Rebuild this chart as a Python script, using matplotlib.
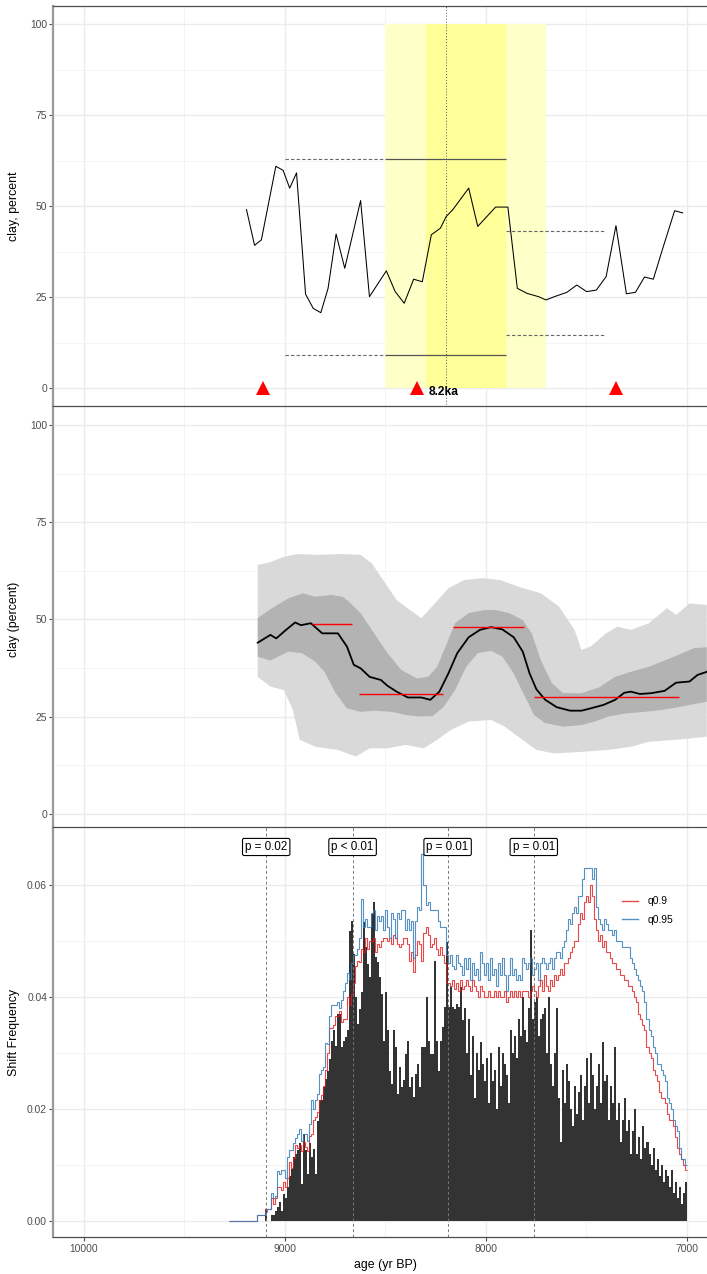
import numpy as np
import matplotlib
matplotlib.use('Agg')
import matplotlib.pyplot as plt
from matplotlib.lines import Line2D

plt.rcParams['font.family'] = ['Liberation Sans', 'DejaVu Sans']

# ---------------- data ----------------
# top panel: raw clay record
top_age = [9191, 9151, 9117, 9045, 9009, 8976, 8942, 8897, 8859, 8821, 8785, 8745, 8702,
           8623, 8579, 8495, 8451, 8406, 8359, 8316, 8271, 8226, 8197, 8164, 8085, 8040,
           7951, 7890, 7843, 7794, 7737, 7700, 7659, 7596, 7547, 7498, 7450, 7401, 7352,
           7300, 7255, 7210, 7166, 7116, 7060, 7020]
top_clay = [49.1, 39.3, 40.8, 61.0, 59.9, 55.0, 59.2, 25.9, 22.0, 20.8, 27.5, 42.4, 33.0,
            51.6, 25.2, 32.3, 26.6, 23.4, 30.0, 29.3, 42.2, 44.0, 47.2, 49.1, 55.0, 44.5,
            49.8, 49.8, 27.5, 26.1, 25.2, 24.3, 25.2, 26.4, 28.4, 26.6, 27.0, 30.7, 44.7,
            26.0, 26.4, 30.6, 30.0, 39.0, 48.8, 48.2]
band_outer = (8500, 7700)
band_inner = (8300, 7900)
event_age = 8200
event_label = "8.2ka"
ref_span_dashed = (9000, 8500)
ref_span_solid = (8500, 7900)
ref_upper, ref_lower = 63.0, 9.2
post_span = (7900, 7400)
post_upper, post_lower = 43.1, 14.6
triangle_ages = [9110, 8340, 7350]

# middle panel: smoothed mean + envelopes
mean_age = [9135, 9072, 9043, 8994, 8949, 8920, 8871, 8814, 8736, 8691, 8657, 8623, 8578,
            8522, 8489, 8444, 8388, 8321, 8276, 8231, 8186, 8142, 8085, 8029, 7973, 7917,
            7861, 7816, 7782, 7748, 7704, 7647, 7580, 7523, 7478, 7413, 7356, 7311, 7278,
            7233, 7177, 7110, 7053, 6986, 6946, 6900]
mean_clay = [44.0, 46.0, 45.1, 47.3, 49.2, 48.5, 49.0, 46.4, 46.4, 43.0, 38.3, 37.4, 35.2,
             34.4, 32.9, 31.4, 29.9, 29.9, 29.3, 31.4, 36.1, 41.3, 45.4, 47.3, 48.0, 47.4,
             45.4, 41.7, 36.1, 32.0, 29.3, 27.4, 26.5, 26.5, 27.1, 28.0, 29.3, 31.1, 31.4,
             30.8, 31.0, 31.6, 33.7, 34.0, 35.7, 36.5]
inner_hi_age = [9135, 9072, 8983, 8910, 8848, 8769, 8713, 8680, 8623, 8556, 8489, 8421,
                8343, 8287, 8242, 8197, 8153, 8085, 8006, 7951, 7883, 7816, 7771, 7726,
                7670, 7614, 7524, 7435, 7356, 7278, 7188, 7110, 7030, 6963, 6900]
inner_hi = [50.3, 52.6, 55.4, 56.7, 55.8, 56.3, 55.8, 54.5, 51.6, 46.4, 41.3, 37.0, 34.8,
            35.2, 37.8, 43.4, 49.0, 51.6, 52.4, 52.4, 51.6, 49.8, 46.4, 39.5, 33.5, 31.0,
            31.0, 32.5, 35.2, 36.5, 37.8, 39.4, 41.1, 42.6, 42.8]
inner_lo_age = [9135, 9072, 8983, 8915, 8848, 8803, 8747, 8691, 8623, 8556, 8467, 8399,
                8332, 8265, 8209, 8153, 8097, 8040, 7973, 7917, 7861, 7805, 7760, 7704,
                7614, 7524, 7457, 7390, 7300, 7210, 7120, 7030, 6963, 6900]
inner_lo = [40.4, 39.4, 41.7, 41.3, 39.1, 36.5, 31.0, 27.1, 26.2, 26.5, 26.2, 25.4, 25.0,
            25.1, 27.5, 31.8, 37.8, 41.3, 41.9, 40.4, 36.1, 30.1, 25.4, 23.3, 22.4, 22.8,
            23.7, 25.0, 25.8, 26.2, 26.7, 27.5, 28.2, 28.8]
outer_hi_age = [9135, 9072, 9005, 8937, 8848, 8713, 8623, 8567, 8511, 8444, 8377, 8321,
                8253, 8186, 8108, 8018, 7928, 7838, 7726, 7636, 7558, 7524, 7478, 7401,
                7345, 7278, 7188, 7098, 7053, 6986, 6900]
outer_hi = [64.0, 64.7, 66.1, 66.8, 66.6, 66.8, 66.6, 64.4, 60.1, 55.0, 52.4, 50.3, 54.1,
            58.0, 60.1, 60.6, 60.1, 58.4, 56.7, 53.3, 47.3, 42.1, 43.0, 46.4, 48.1, 47.3,
            49.0, 52.9, 51.1, 54.1, 53.7]
outer_lo_age = [9135, 9072, 9005, 8960, 8926, 8848, 8736, 8646, 8579, 8489, 8399, 8309,
                8242, 8175, 8085, 7973, 7906, 7838, 7748, 7659, 7524, 7390, 7278, 7188,
                7053, 6900]
outer_lo = [35.2, 32.7, 31.8, 26.7, 19.0, 17.2, 16.4, 14.7, 16.8, 16.8, 17.7, 16.8, 19.0,
            21.5, 23.7, 24.1, 22.4, 19.8, 16.4, 15.5, 15.9, 16.4, 17.2, 18.5, 19.0, 19.8]
seg_start = [8866, 8630, 8164, 7760]
seg_end = [8664, 8215, 7809, 7036]
seg_level = [48.8, 30.8, 48.1, 29.9]

# bottom panel: shift frequency histogram (10-yr bins from 9280 to 7000 BP)
bin_first = 9280
bin_width = 10
freq = ([0.0] * 18 +
        [0.002, 0.0, 0.0, 0.001, 0.001, 0.0018, 0.0024, 0.0033, 0.0018, 0.0048,
         0.004, 0.006, 0.008, 0.0093, 0.0114, 0.012, 0.0126, 0.0138, 0.0066, 0.0155,
         0.0126, 0.0084, 0.0138, 0.0114, 0.0129, 0.0084, 0.0179, 0.0215, 0.0215, 0.0239,
         0.0254, 0.0268, 0.0289, 0.0322, 0.034, 0.0313, 0.037, 0.037, 0.031, 0.0322,
         0.0328, 0.034, 0.0518, 0.0536, 0.0477, 0.0399, 0.0352, 0.0379, 0.0408, 0.0533,
         0.0489, 0.0459, 0.0435, 0.0548, 0.0569, 0.0471, 0.0462, 0.0435, 0.0405, 0.0322,
         0.0408, 0.034, 0.0268, 0.0245, 0.034, 0.031, 0.0227, 0.0274, 0.0239, 0.0251,
         0.0298, 0.0322, 0.0239, 0.0257, 0.0221, 0.0263, 0.028, 0.0239, 0.031, 0.031,
         0.0399, 0.0322, 0.0298, 0.0298, 0.0465, 0.0322, 0.0268, 0.0322, 0.0346, 0.0382,
         0.0498, 0.0382, 0.0417, 0.0382, 0.0379, 0.0388, 0.0382, 0.0417, 0.0358] +
        [0.038, 0.030, 0.036, 0.026, 0.033, 0.022, 0.030, 0.027, 0.032, 0.028, 0.025,
         0.029, 0.021, 0.030, 0.025, 0.027, 0.020, 0.031, 0.024, 0.030, 0.028,
         0.026, 0.021, 0.034, 0.030, 0.033, 0.029, 0.036, 0.033, 0.040, 0.034,
         0.032, 0.038, 0.052, 0.036, 0.039, 0.040, 0.033, 0.036, 0.037, 0.038,
         0.030, 0.040, 0.028, 0.024, 0.030, 0.038, 0.022, 0.014, 0.027, 0.021,
         0.028, 0.025, 0.020, 0.017, 0.024, 0.019, 0.023, 0.026, 0.018, 0.024,
         0.029, 0.021, 0.030, 0.026, 0.020, 0.024, 0.028, 0.021, 0.032, 0.025,
         0.026, 0.018, 0.024, 0.021, 0.031, 0.018, 0.021, 0.014, 0.018, 0.022,
         0.016, 0.018, 0.012, 0.016, 0.020, 0.012, 0.015, 0.011, 0.017, 0.013,
         0.014, 0.012, 0.010, 0.013, 0.009, 0.011, 0.008, 0.010, 0.007, 0.009,
         0.008, 0.006, 0.009, 0.005, 0.007, 0.004, 0.006, 0.003, 0.005, 0.007])
q95 = ([0.0] * 14 + [0.001] * 4 +
       [0.0015, 0.002, 0.002, 0.005, 0.004, 0.0045, 0.0088, 0.0084, 0.009, 0.009,
        0.0076, 0.0114, 0.0126, 0.0126, 0.0138, 0.0148, 0.0155, 0.0163, 0.0143, 0.0155,
        0.0155, 0.0143, 0.0172, 0.0215, 0.02, 0.0215, 0.0227, 0.0262, 0.027, 0.0275,
        0.0318, 0.0316, 0.0365, 0.0385, 0.0385, 0.0385, 0.039, 0.038, 0.0395, 0.041,
        0.0425, 0.0442, 0.0432, 0.046, 0.0475, 0.0475, 0.0485, 0.0505, 0.0575, 0.0525,
        0.054, 0.0525, 0.0525, 0.055, 0.0555, 0.052, 0.0545, 0.0535, 0.0545, 0.052,
        0.0555, 0.0525, 0.0505, 0.055, 0.054, 0.0505, 0.055, 0.054, 0.0555, 0.0555,
        0.052, 0.054, 0.052, 0.0535, 0.047, 0.0535, 0.056, 0.0555, 0.0655, 0.06,
        0.0565, 0.057, 0.0555, 0.0555, 0.0555, 0.0555, 0.0535, 0.0525, 0.0525, 0.0525,
        0.0475, 0.046, 0.0475, 0.0455, 0.045, 0.0475, 0.046, 0.0455, 0.044] +
       [0.047, 0.045, 0.047, 0.043, 0.046, 0.044, 0.045, 0.043, 0.048, 0.046, 0.044,
        0.046, 0.043, 0.047, 0.044, 0.045, 0.042, 0.046, 0.044, 0.047, 0.044,
        0.041, 0.044, 0.047, 0.044, 0.045, 0.043, 0.044, 0.043, 0.047, 0.046,
        0.045, 0.046, 0.047, 0.044, 0.045, 0.046, 0.043, 0.046, 0.047, 0.046,
        0.045, 0.046, 0.047, 0.045, 0.047, 0.048, 0.048, 0.047, 0.049, 0.050,
        0.052, 0.054, 0.053, 0.055, 0.056, 0.055, 0.058, 0.058, 0.061, 0.063,
        0.063, 0.063, 0.063, 0.061, 0.063, 0.056, 0.054, 0.053, 0.052, 0.054,
        0.053, 0.052, 0.052, 0.051, 0.052, 0.050, 0.050, 0.050, 0.049, 0.049,
        0.049, 0.049, 0.047, 0.046, 0.045, 0.044, 0.043, 0.042, 0.041, 0.039,
        0.036, 0.034, 0.033, 0.031, 0.030, 0.028, 0.028, 0.027, 0.026, 0.025,
        0.022, 0.021, 0.020, 0.018, 0.017, 0.016, 0.013, 0.011, 0.011, 0.010])
q90 = ([0.0] * 14 + [0.001] * 4 +
       [0.002, 0.002, 0.002, 0.004, 0.003, 0.004, 0.006, 0.006, 0.0055, 0.007,
        0.006, 0.0076, 0.0105, 0.0095, 0.0112, 0.0135, 0.013, 0.0135, 0.0125, 0.014,
        0.0132, 0.0125, 0.0152, 0.0155, 0.018, 0.0185, 0.0195, 0.0215, 0.0225, 0.024,
        0.027, 0.03, 0.0345, 0.0345, 0.035, 0.0365, 0.0365, 0.0375, 0.0355, 0.036,
        0.036, 0.04, 0.0385, 0.0405, 0.0425, 0.0455, 0.0465, 0.0462, 0.0485, 0.048,
        0.0505, 0.0485, 0.05, 0.05, 0.0505, 0.048, 0.0495, 0.049, 0.05, 0.0505,
        0.0505, 0.05, 0.0505, 0.0495, 0.051, 0.0505, 0.0495, 0.049, 0.0495, 0.0505,
        0.0505, 0.0495, 0.0465, 0.048, 0.0445, 0.0475, 0.05, 0.0495, 0.0465, 0.0515,
        0.0525, 0.051, 0.049, 0.0495, 0.0505, 0.0485, 0.0475, 0.049, 0.0475, 0.046,
        0.0425, 0.0425, 0.042, 0.043, 0.0415, 0.0425, 0.041, 0.043, 0.0415] +
       [0.042, 0.043, 0.042, 0.041, 0.043, 0.042, 0.041, 0.040, 0.042, 0.041, 0.040,
        0.040, 0.041, 0.040, 0.040, 0.041, 0.040, 0.041, 0.040, 0.040, 0.041,
        0.039, 0.040, 0.041, 0.040, 0.041, 0.040, 0.041, 0.040, 0.041, 0.041,
        0.041, 0.040, 0.041, 0.042, 0.041, 0.040, 0.042, 0.043, 0.041, 0.044,
        0.042, 0.041, 0.043, 0.042, 0.044, 0.043, 0.044, 0.045, 0.044, 0.046,
        0.046, 0.047, 0.048, 0.049, 0.050, 0.050, 0.053, 0.055, 0.054, 0.057,
        0.058, 0.057, 0.060, 0.058, 0.054, 0.052, 0.050, 0.051, 0.049, 0.050,
        0.048, 0.048, 0.047, 0.046, 0.046, 0.045, 0.045, 0.044, 0.044, 0.043,
        0.043, 0.042, 0.042, 0.041, 0.040, 0.039, 0.037, 0.036, 0.035, 0.034,
        0.031, 0.030, 0.029, 0.027, 0.026, 0.025, 0.023, 0.022, 0.022, 0.021,
        0.019, 0.018, 0.018, 0.017, 0.015, 0.013, 0.012, 0.011, 0.010, 0.009])
p_ages = [9093, 8663, 8190, 7761]
p_labels = ["p = 0.02", "p < 0.01", "p = 0.01", "p = 0.01"]
legend_labels = ["q0.9", "q0.95"]

x_major = [10000, 9000, 8000, 7000]
x_minor = [9500, 8500, 7500]

# ---------------- layout ----------------
W, H = 707, 1274
fig = plt.figure(figsize=(W / 100, H / 100), dpi=100)
L, R = 53.3, 728.0
XLIM = (10152.7, 6794.3)


def rect(top, bot):
    return [L / W, 1 - bot / H, (R - L) / W, (bot - top) / H]


GRAY_TXT = '#4D4D4D'


def style(ax, yticks, yminor, ylim, ylabel, show_x=False):
    ax.set_xticks(x_major)
    ax.set_xticks(x_minor, minor=True)
    ax.set_yticks(yticks)
    ax.set_yticks(yminor, minor=True)
    ax.set_xlim(XLIM)
    ax.set_ylim(ylim)
    ax.grid(which='major', color='#EBEBEB', lw=1.0)
    ax.grid(which='minor', color='#F3F3F3', lw=0.6)
    ax.set_axisbelow(True)
    ax.tick_params(which='minor', length=0)
    ax.tick_params(axis='y', which='major', length=3, width=0.8, color='#4D4D4D',
                   labelsize=7.4, labelcolor=GRAY_TXT, pad=1.5)
    if show_x:
        ax.tick_params(axis='x', which='major', length=3, width=0.8, color='#4D4D4D',
                       labelsize=7.4, labelcolor=GRAY_TXT, pad=2)
    else:
        ax.tick_params(axis='x', which='major', length=0, labelbottom=False)
    ax.spines['right'].set_visible(False)
    ax.spines['left'].set_color('#9A9A9A')
    ax.spines['left'].set_linewidth(1.6)
    ax.spines['top'].set_color('#4D4D4D')
    ax.spines['top'].set_linewidth(0.9)
    ax.spines['bottom'].set_color('#4D4D4D')
    ax.spines['bottom'].set_linewidth(0.9)
    ax.set_ylabel(ylabel, fontsize=8.9, color='black')
    ax.yaxis.set_label_coords(-(L - 14) / (R - L), 0.5)
    ax.yaxis.label.set_va('center')


# ---------------- top panel ----------------
ax1 = fig.add_axes(rect(6, 406.7))
style(ax1, [0, 25, 50, 75, 100], [12.5, 37.5, 62.5, 87.5], (-5, 105), 'clay, percent')
ax1.fill_between(band_outer, 0, 100, color='#FFFFC8', lw=0, zorder=1)
ax1.fill_between(band_inner, 0, 100, color='#FFFF99', lw=0, zorder=1.1)
ax1.axvline(event_age, color='#555555', ls=(0, (1, 2)), lw=0.7, zorder=2)
for lvl in (ref_upper, ref_lower):
    ax1.hlines(lvl, *ref_span_dashed, colors='#666666', linestyles=(0, (3, 2)), lw=0.8, zorder=2)
    ax1.hlines(lvl, *ref_span_solid, colors='#555555', lw=0.9, zorder=2)
for lvl in (post_upper, post_lower):
    ax1.hlines(lvl, *post_span, colors='#666666', linestyles=(0, (3, 2)), lw=0.8, zorder=2)
ax1.plot(top_age, top_clay, color='black', lw=0.75, zorder=3)
ax1.plot(triangle_ages, [0] * len(triangle_ages), ls='none', marker='^', color='red',
         ms=9.5, mew=0, zorder=4, clip_on=False)
ax1.text(triangle_ages[1] - 55, -1, event_label, fontsize=8.6, fontweight='bold',
         ha='left', va='center', zorder=5)

# ---------------- middle panel ----------------
ax2 = fig.add_axes(rect(405.6, 833.1))
style(ax2, [0, 25, 50, 75, 100], [12.5, 37.5, 62.5, 87.5], (-5, 105), 'clay (percent)')
ax2.fill(list(outer_hi_age) + list(outer_lo_age[::-1]), list(outer_hi) + list(outer_lo[::-1]),
         color='#D9D9D9', lw=0, zorder=1)
ax2.fill(list(inner_hi_age) + list(inner_lo_age[::-1]), list(inner_hi) + list(inner_lo[::-1]),
         color='#B3B3B3', lw=0, zorder=1.1)
ax2.plot(mean_age, mean_clay, color='black', lw=1.3, zorder=3)
ax2.hlines(seg_level, seg_start, seg_end, colors='#FF0000', lw=1.0, zorder=4)
ax2.set_xlim(XLIM)

# ---------------- bottom panel ----------------
ax3 = fig.add_axes(rect(827, 1237.3))
style(ax3, [0, 0.02, 0.04, 0.06], [0.01, 0.03, 0.05], (-0.00297, 0.07037),
      'Shift Frequency', show_x=True)
ax3.set_yticklabels(['0.00', '0.02', '0.04', '0.06'])
edges = bin_first - bin_width * np.arange(len(freq) + 1)
ax3.stairs(freq[::-1], edges[::-1], fill=True, color='#333333', lw=0, zorder=2)
ax3.stairs(q90[::-1], edges[::-1], color='#E41A1C', alpha=0.8, lw=0.8, zorder=3,
           baseline=None)
ax3.stairs(q95[::-1], edges[::-1], color='#377EB8', alpha=0.85, lw=0.8, zorder=3.1,
           baseline=None)
for a, lab in zip(p_ages, p_labels):
    ax3.axvline(a, color='#777777', ls=(0, (3, 2.5)), lw=0.7, zorder=4)
    ax3.text(a, 0.0668, lab, ha='center', va='center', fontsize=8.4, zorder=6,
             bbox=dict(boxstyle='round,pad=0.22,rounding_size=0.15', fc='white',
                       ec='black', lw=0.8))
ax3.set_xticklabels([str(v) for v in x_major])
ax3.set_xlim(XLIM)
ax3.set_xlabel('age (yr BP)', fontsize=8.9, color='black')
ax3.xaxis.set_label_coords((385 - L) / (R - L), (1237.3 - 1265) / (1237.3 - 827))
ax3.xaxis.label.set_va('center')
handles = [Line2D([], [], color='#E41A1C', alpha=0.8, lw=1.0),
           Line2D([], [], color='#377EB8', alpha=0.85, lw=1.0)]
fig.legend(handles, legend_labels, loc='center left',
           bbox_to_anchor=(622 / W, 1 - 910.5 / H), frameon=False, fontsize=7.4,
           handlelength=1.6, handletextpad=0.9, labelspacing=0.85, borderpad=0,
           borderaxespad=0)

fig.savefig('out.png', dpi=100)
